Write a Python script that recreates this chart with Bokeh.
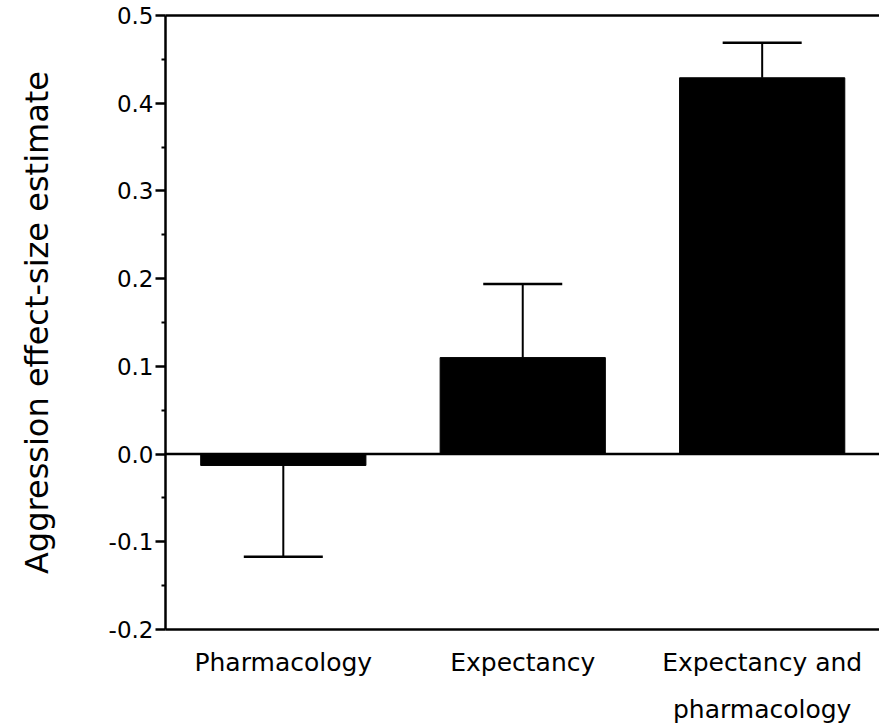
from bokeh.plotting import figure
from bokeh.models import (LinearAxis, FixedTicker, NumeralTickFormatter, Range1d, Span)
from bokeh.embed import file_html
from bokeh.resources import INLINE

# ---- data ----
categories = ["Pharmacology", "Expectancy", "Expectancy and\npharmacology"]
positions = [1, 2, 3]
means = [-0.013, 0.110, 0.429]
error_ends = [-0.117, 0.194, 0.469]
y_ticks = [-0.2, -0.1, 0.0, 0.1, 0.2, 0.3, 0.4, 0.5]
y_minor_ticks = [-0.15, -0.05, 0.05, 0.15, 0.25, 0.35, 0.45]

FONT = "DejaVu Sans"

p = figure(frame_width=714, frame_height=614, output_backend="svg", toolbar_location=None,
           x_range=Range1d(0.508, 3.49), y_range=Range1d(-0.2, 0.5),
           x_axis_location=None, y_axis_location=None)
p.min_border_left = 165
p.min_border_right = 0
p.min_border_top = 15
p.min_border_bottom = 90
p.outline_line_color = None
p.grid.visible = False
p.background_fill_color = "white"
p.border_fill_color = "white"

# bars
bar_w = 0.69
p.vbar(x=positions, top=means, bottom=0, width=bar_w, fill_color="black", line_color="black")

# error bars (one-sided)
p.segment(x0=positions, y0=means, x1=positions, y1=error_ends, line_color="black", line_width=2)
cap = 0.33
p.segment(x0=[x - cap / 2 for x in positions], y0=error_ends,
          x1=[x + cap / 2 for x in positions], y1=error_ends, line_color="black", line_width=2.5)

# zero line
p.add_layout(Span(location=0, dimension="width", line_color="black", line_width=2.5))

# left axis
yax = LinearAxis(axis_label="Aggression effect-size estimate")
yax.ticker = FixedTicker(ticks=y_ticks, minor_ticks=y_minor_ticks)
yax.formatter = NumeralTickFormatter(format="0.0")
yax.axis_line_width = 2.5
yax.major_tick_line_width = 2.5
yax.minor_tick_line_width = 2
yax.major_tick_out = 10
yax.major_tick_in = 0
yax.minor_tick_out = 4
yax.minor_tick_in = 0
yax.major_label_standoff = 2
yax.major_label_text_font = FONT
yax.major_label_text_font_size = "23px"
yax.major_label_text_color = "black"
yax.axis_label_text_font = FONT
yax.axis_label_text_font_size = "32px"
yax.axis_label_text_font_style = "normal"
yax.axis_label_text_color = "black"
yax.axis_label_standoff = 50
p.add_layout(yax, "left")

# bottom axis
xax = LinearAxis()
xax.ticker = FixedTicker(ticks=positions)
xax.major_label_overrides = {pos: lab for pos, lab in zip(positions, categories)}
xax.axis_line_width = 2.5
xax.major_tick_line_color = None
xax.minor_tick_line_color = None
xax.major_label_standoff = 12
xax.major_label_text_font = FONT
xax.major_label_text_font_size = "25px"
xax.major_label_text_color = "black"
xax.major_label_text_line_height = 1.65
p.add_layout(xax, "below")

# top frame line
tax = LinearAxis()
tax.ticker = FixedTicker(ticks=[])
tax.axis_line_width = 2.5
tax.major_tick_line_color = None
tax.minor_tick_line_color = None
tax.major_label_text_font_size = "0px"
p.add_layout(tax, "above")

open("out.html", "w").write(file_html(p, INLINE))
